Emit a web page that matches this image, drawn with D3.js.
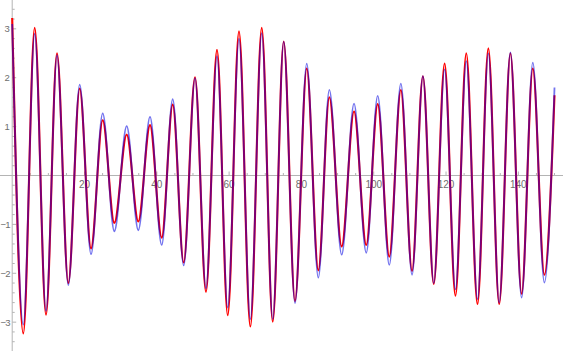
<!DOCTYPE html>
<html><head><meta charset="utf-8">
<script src="https://cdn.jsdelivr.net/npm/d3@7"></script>
<style>html,body{margin:0;padding:0;background:#fff;}svg{display:block;}</style>
</head><body>
<svg id="c" width="567" height="351"></svg>
<script>
// Times (x) of the local maxima and minima
const peakT   = [0, 6.22, 12.39, 18.67, 25.03, 31.67, 38.12, 44.40, 50.57, 56.65, 62.73, 69.02, 75.10, 81.47, 87.72, 94.55, 101.1, 107.5, 113.6, 119.6, 125.6, 131.7, 137.8, 144.0];
const troughT = [3.07, 9.35, 15.52, 21.80, 28.25, 34.88, 41.35, 47.43, 53.60, 59.61, 65.87, 72.06, 78.22, 84.67, 91.13, 97.93, 104.3, 110.6, 116.6, 122.6, 128.7, 134.7, 140.9, 147.2];
const endT = 150;

// Red series
const redPeaks   = [3.22, 3.02, 2.50, 1.78, 1.13, 0.84, 1.03, 1.45, 2.01, 2.57, 2.95, 3.02, 2.74, 2.19, 1.60, 1.31, 1.46, 1.75, 2.03, 2.29, 2.50, 2.60, 2.50, 2.19];
const redTroughs = [-3.23, -2.85, -2.20, -1.49, -0.97, -0.94, -1.27, -1.78, -2.38, -2.86, -3.09, -2.99, -2.57, -1.94, -1.45, -1.42, -1.66, -1.95, -2.22, -2.46, -2.63, -2.63, -2.42, -2.03];
const redEnd = 1.64;

// Blue series
const bluePeaks   = [3.10, 2.90, 2.46, 1.86, 1.27, 1.01, 1.20, 1.56, 1.99, 2.44, 2.80, 2.91, 2.74, 2.29, 1.75, 1.47, 1.63, 1.88, 2.03, 2.17, 2.34, 2.50, 2.52, 2.31];
const blueTroughs = [-3.05, -2.77, -2.24, -1.61, -1.14, -1.12, -1.42, -1.84, -2.31, -2.70, -2.94, -2.94, -2.61, -2.09, -1.62, -1.58, -1.83, -2.03, -2.20, -2.33, -2.53, -2.60, -2.50, -2.19];
const blueEnd = 1.80;

// Tick labels
const xTickLabels = [20, 40, 60, 80, 100, 120, 140];
const yTickLabels = [-3, -2, -1, 1, 2, 3];

const W = 567, H = 351;
const svg = d3.select("#c");
const x = d3.scaleLinear().domain([0, 150]).range([12.2, 554.5]);
const y = d3.scaleLinear().domain([-3.59, 3.59]).range([351, 0]);

function series(peaks, troughs, endV) {
  const pts = [];
  for (let i = 0; i < peakT.length; i++) {
    pts.push([peakT[i], peaks[i]]);
    if (i < troughT.length) pts.push([troughT[i], troughs[i]]);
  }
  pts.push([endT, endV]);
  return pts;
}

const axisColor = "#b4b4b4";
const labelColor = "#6e6e6e";
const x0 = y(0), y0 = x(0);

// axes
svg.append("line").attr("x1", 0).attr("x2", 563).attr("y1", x0).attr("y2", x0)
  .attr("stroke", axisColor).attr("stroke-width", 1);
svg.append("line").attr("x1", y0).attr("x2", y0).attr("y1", 0).attr("y2", H)
  .attr("stroke", axisColor).attr("stroke-width", 1);

// x ticks
const xMinor = d3.range(5, 151, 5);
svg.selectAll(".xt").data(xMinor).enter().append("line")
  .attr("x1", d => x(d)).attr("x2", d => x(d))
  .attr("y1", x0).attr("y2", d => x0 - (d % 20 === 0 ? 4 : 2.5))
  .attr("stroke", axisColor).attr("stroke-width", 1);
svg.selectAll(".xl").data(xTickLabels).enter().append("text")
  .attr("x", d => x(d)).attr("y", x0 + 12.5)
  .attr("text-anchor", "middle")
  .attr("font-family", "Liberation Sans, Arial, sans-serif").attr("font-size", 10)
  .attr("fill", labelColor).text(d => d);

// y ticks
const yMinor = d3.range(-3.4, 3.5, 0.2).map(v => Math.round(v * 10) / 10).filter(v => v !== 0);
svg.selectAll(".yt").data(yMinor).enter().append("line")
  .attr("x1", y0).attr("x2", d => y0 + (Number.isInteger(d) ? 4 : 2.5))
  .attr("y1", d => y(d)).attr("y2", d => y(d))
  .attr("stroke", axisColor).attr("stroke-width", 1);
svg.selectAll(".yl").data(yTickLabels).enter().append("text")
  .attr("x", y0 - 2.5).attr("y", d => y(d) + 3.5)
  .attr("text-anchor", "end")
  .attr("font-family", "Liberation Sans, Arial, sans-serif").attr("font-size", 9.5)
  .attr("letter-spacing", d => d < 0 ? -0.8 : 0)
  .attr("fill", labelColor).text(d => d < 0 ? "\u2212" + Math.abs(d) : d);

// curves
const line = d3.line().x(d => x(d[0])).y(d => y(d[1])).curve(d3.curveMonotoneX);
svg.append("path").datum(series(redPeaks, redTroughs, redEnd))
  .attr("d", line).attr("fill", "none").attr("stroke", "#ff0000")
  .attr("stroke-width", 2.1);
svg.append("path").datum(series(bluePeaks, blueTroughs, blueEnd))
  .attr("d", line).attr("fill", "none").attr("stroke", "#0000e0")
  .attr("stroke-width", 1.8).attr("stroke-opacity", 0.55);
</script>
</body></html>
